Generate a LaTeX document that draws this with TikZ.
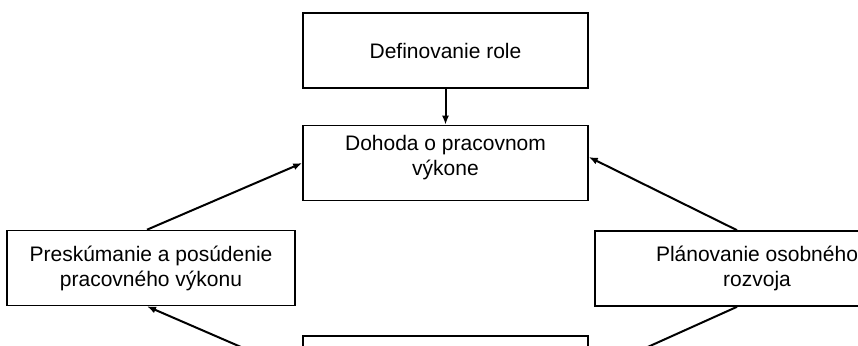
\documentclass[tikz,border=0pt]{standalone}
\usepackage{fontspec}
\setmainfont{Liberation Sans}
\usetikzlibrary{arrows.meta}

\tikzset{flow/.style={-{Latex[length=9pt,width=7pt]}, line width=2pt}}

\begin{document}
\begin{tikzpicture}[x=1pt, y=-1pt,
	every node/.style={draw, line width=1.6pt, align=center, minimum width=285pt, minimum height=75pt, inner sep=0pt, font=\fontsize{21}{25}\selectfont}]
			% Page frame, the outer boxes run off the edge
			\useasboundingbox (0,0) rectangle (858,345);
			\clip (0,0) rectangle (858,345);
			
			% Boxes of the cycle
			\node (role) at (445.5,50.5) {Definovanie role};
			\node[text depth=16pt] (dohoda) at (445.5,163) {Dohoda o pracovnom\\výkone};
			\node[minimum width=288pt] (preskum) at (151,268) {Preskúmanie a posúdenie\\pracovného výkonu};
			\node[minimum width=324pt] (plan) at (757,268.5) {Plánovanie osobného\\rozvoja};
			\node (low) at (445.5,373.5) {};
			
			% Arrows
			\draw[flow] (role) -- (dohoda);
			\draw[flow] ([xshift=-4pt]preskum.north) -- (dohoda.west);
			\draw[flow] ([xshift=-20pt]plan.north) -- ([yshift=6pt]dohoda.east);
			\draw[flow] (low.west) -- ([xshift=-4pt]preskum.south);
			\draw[flow] ([xshift=-20pt]plan.south) -- (low.east);
		\end{tikzpicture}
\end{document}
